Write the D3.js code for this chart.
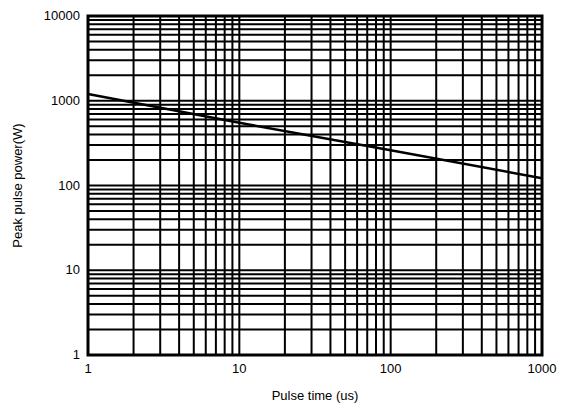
<!DOCTYPE html>
<html>
<head>
<meta charset="utf-8">
<script src="https://cdn.jsdelivr.net/npm/d3@7"></script>
<style>
  body { margin: 0; background: #fff; }
  text { font-family: "Liberation Sans", Arial, sans-serif; fill: #000; }
</style>
</head>
<body>
<script>
const w = 569
const h = 410

// pulse curve
const pulseTime = [1, 10, 100, 1000]
const peakPower = [1200, 550, 260, 122]

const xTickLabels = [1, 10, 100, 1000]
const yTickLabels = [1, 10, 100, 1000, 10000]

const margin = { left: 88, right: 27, top: 16, bottom: 55 }

const svg = d3.select('body').append('svg')
  .attr('width', w)
  .attr('height', h)

const x = d3.scaleLog().domain([1, 1000]).range([margin.left, w - margin.right])
const y = d3.scaleLog().domain([1, 10000]).range([h - margin.bottom, margin.top])

// minor + major grid values (1..9 in each decade)
const gridX = []
for (let e = 0; e < 3; e++) for (let m = 2; m <= 10; m++) gridX.push(m * Math.pow(10, e))
const gridY = []
for (let e = 0; e < 4; e++) for (let m = 2; m <= 10; m++) gridY.push(m * Math.pow(10, e))

const grid = svg.append('g').attr('stroke', '#000').attr('stroke-width', 2)

grid.selectAll('line.gx')
  .data(gridX)
  .enter()
  .append('line')
  .attr('class', 'gx')
  .attr('x1', d => x(d))
  .attr('x2', d => x(d))
  .attr('y1', y(1))
  .attr('y2', y(10000))

grid.selectAll('line.gy')
  .data(gridY)
  .enter()
  .append('line')
  .attr('class', 'gy')
  .attr('x1', x(1))
  .attr('x2', x(1000))
  .attr('y1', d => y(d))
  .attr('y2', d => y(d))

// frame
svg.append('rect')
  .attr('x', x(1))
  .attr('y', y(10000))
  .attr('width', x(1000) - x(1))
  .attr('height', y(1) - y(10000))
  .attr('fill', 'none')
  .attr('stroke', '#000')
  .attr('stroke-width', 3)

// the curve
const line = d3.line()
  .x((d, i) => x(pulseTime[i]))
  .y(d => y(d))

svg.append('path')
  .datum(peakPower)
  .attr('d', line)
  .attr('fill', 'none')
  .attr('stroke', '#000')
  .attr('stroke-width', 2.5)

// tick labels
svg.selectAll('text.xt')
  .data(xTickLabels)
  .enter()
  .append('text')
  .attr('class', 'xt')
  .attr('x', d => x(d))
  .attr('y', y(1) + 18)
  .attr('text-anchor', 'middle')
  .attr('font-size', '13px')
  .text(d => d)

svg.selectAll('text.yt')
  .data(yTickLabels)
  .enter()
  .append('text')
  .attr('class', 'yt')
  .attr('x', x(1) - 8)
  .attr('y', d => y(d) + 4)
  .attr('text-anchor', 'end')
  .attr('font-size', '13px')
  .text(d => d)

// axis titles
svg.append('text')
  .attr('x', (x(1) + x(1000)) / 2)
  .attr('y', 400)
  .attr('text-anchor', 'middle')
  .attr('font-size', '13px')
  .text('Pulse time (us)')

svg.append('text')
  .attr('transform', `translate(22, ${(y(1) + y(10000)) / 2}) rotate(-90)`)
  .attr('text-anchor', 'middle')
  .attr('font-size', '13px')
  .text('Peak pulse power(W)')
</script>
</body>
</html>
